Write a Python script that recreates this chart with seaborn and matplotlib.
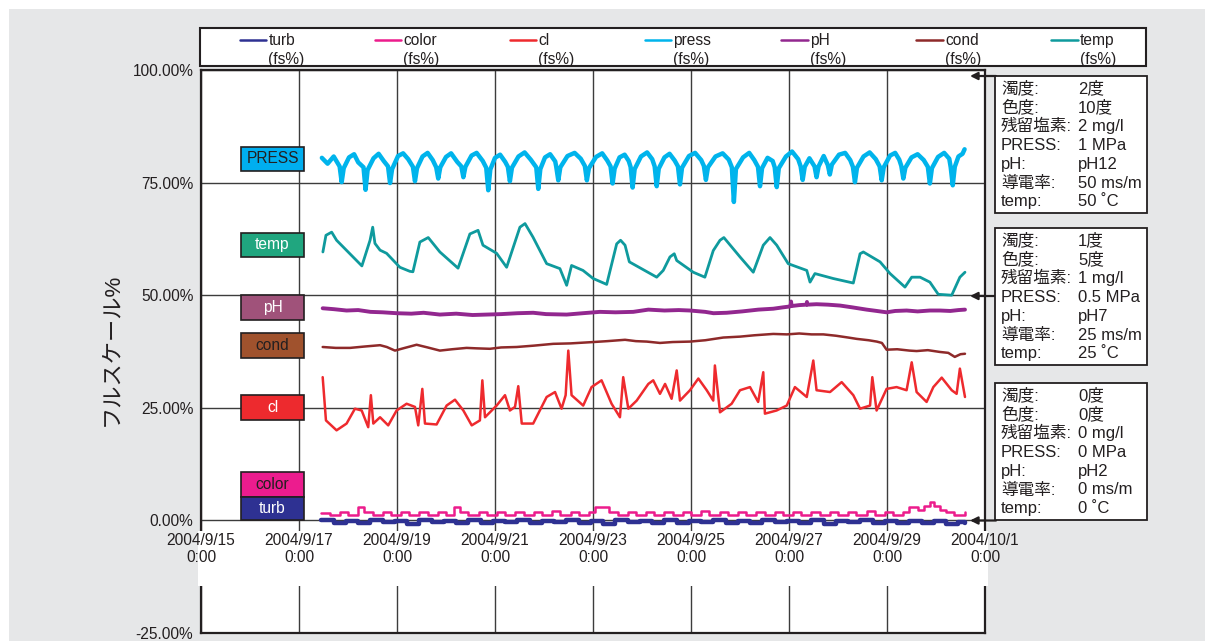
import numpy as np
import pandas as pd
import matplotlib.pyplot as plt
import matplotlib.dates as mdates
import seaborn as sns
from matplotlib.patches import Rectangle
from matplotlib.lines import Line2D
from matplotlib.legend_handler import HandlerLine2D

# Full-scale (%) monitoring record, 2004/9/17 - 2004/9/30.
# Hours are counted from the first sample (2004/9/17 11:00).
start = pd.Timestamp("2004-09-17 11:00")

turb_hours = [0, 6, 12, 18, 24, 30, 36, 42, 48, 54, 60, 66, 72, 78, 84, 90, 96, 102, 108, 114,
              120, 126, 132, 138, 144, 150, 156, 162, 168, 174, 180, 186, 192, 198, 204, 210,
              216, 222, 228, 234, 240, 246, 252, 258, 264, 270, 276, 282, 288, 294, 300, 306, 312, 315]
turb_values = [0.0, -0.5, -0.1, -0.6, 0.0, -0.4, -0.1, -0.7, 0.0, -0.4,
               -0.2, -0.6, 0.0, -0.5, -0.1, -0.4, 0.0, -0.6, -0.2, -0.4,
               0.0, -0.5, -0.1, -0.7, 0.0, -0.4, -0.1, -0.5, 0.0, -0.6,
               -0.2, -0.4, 0.0, -0.5, -0.1, -0.6, 0.0, -0.4, -0.2, -0.5,
               0.0, -0.7, -0.1, -0.4, 0.0, -0.5, -0.1, -0.6, -0.1, -0.5,
               -0.2, -0.7, -0.3, -0.6]

color_hours = [0, 4, 9, 13, 18, 21, 25, 30, 34, 39, 43, 48, 52, 57, 61, 65, 68, 72, 77, 81,
               86, 90, 95, 99, 104, 108, 113, 117, 122, 126, 131, 134, 141, 145, 150, 154, 159,
               163, 168, 172, 177, 181, 186, 190, 195, 199, 204, 208, 213, 217, 222, 226, 231,
               235, 240, 244, 249, 253, 258, 262, 267, 271, 276, 280, 285, 288, 292, 295, 298,
               300, 303, 306, 310, 315]
color_values = [1.6, 1.2, 1.9, 1.2, 2.9, 1.9, 1.2, 1.9, 1.2, 1.9,
                1.3, 1.9, 1.2, 1.9, 1.2, 2.9, 1.9, 1.2, 1.9, 1.2,
                1.9, 1.3, 1.9, 1.2, 1.9, 1.2, 2.0, 1.2, 1.9, 1.2,
                1.9, 3.0, 1.9, 1.2, 1.9, 1.2, 1.9, 1.3, 1.9, 1.2,
                1.9, 1.2, 2.0, 1.2, 1.9, 1.2, 1.9, 1.3, 1.9, 1.2,
                1.9, 1.2, 1.9, 1.2, 1.9, 1.3, 1.9, 1.2, 1.9, 1.2,
                2.0, 1.2, 1.9, 1.2, 1.9, 3.0, 2.2, 3.2, 4.0, 3.3,
                2.4, 1.9, 1.3, 1.9]

cl_hours = [0.6, 2.2, 7.4, 12.3, 16.4, 19.7, 22.9, 24.2, 25.4, 28.7, 32.7, 36.8, 41.7, 45.8,
            47.4, 49.4, 50.7, 56.4, 61.3, 65.4, 69.5, 73.6, 77.6, 78.8, 80.1, 85.8, 89.9, 92.3,
            94.8, 96.4, 98.1, 103.7, 110.3, 114.4, 117.6, 119.6, 120.9, 122.5, 128.2, 132.3,
            137.2, 142.1, 146.2, 147.8, 150.3, 154.4, 160.1, 162.5, 165.8, 168.3, 171.5, 174.0,
            175.6, 180.5, 184.6, 188.7, 191.9, 192.7, 195.2, 200.9, 205.0, 209.9, 213.9, 216.4,
            217.2, 222.9, 227.9, 231.9, 237.7, 240.9, 242.5, 249.1, 254.8, 260.5, 263.8, 268.7,
            269.8, 271.9, 276.8, 281.7, 286.6, 289.1, 291.5, 296.4, 299.7, 303.8, 308.7, 311.1,
            312.7, 315.2]
cl_values = [31.8, 22.2, 20.0, 21.5, 24.8, 24.4, 20.7, 27.8, 21.5, 22.9, 21.1, 24.4, 25.9, 25.2,
             21.1, 29.2, 21.5, 21.3, 25.5, 26.8, 24.4, 21.1, 22.2, 31.1, 22.9, 25.5, 27.8, 24.4,
             25.2, 29.8, 21.5, 21.5, 27.4, 28.5, 24.8, 27.8, 37.7, 27.8, 25.5, 29.6,
             31.1, 25.9, 22.9, 31.8, 24.8, 26.6, 30.3, 31.1, 28.1, 30.3, 27.0, 33.3,
             26.6, 28.9, 31.5, 28.9, 26.6, 34.4, 24.0, 25.9, 28.9, 29.6, 26.3, 32.9,
             23.7, 24.4, 25.5, 29.6, 27.4, 35.5, 28.9, 28.5, 30.7, 27.8, 24.8, 25.5,
             31.8, 24.4, 29.2, 29.6, 28.9, 35.1, 28.5, 26.3, 29.6, 31.7, 28.9, 28.1,
             33.7, 27.4]

press_hours = [0.2, 3.0, 6.0, 8.9, 9.9, 10.9, 13.5, 16.0, 18.0, 20.6,
               21.6, 22.6, 25.5, 28.0, 30.5, 32.6,
               33.6, 34.6, 37.5, 40.0, 42.5, 44.8,
               45.8, 46.8, 49.5, 52.0, 54.5, 56.2,
               57.2, 58.2, 61.0, 63.5, 66.5, 68.5,
               69.5, 70.5, 73.5, 76.0, 79.0, 80.7,
               81.7, 82.7, 85.0, 87.5, 90.0, 91.3,
               92.3, 93.3, 96.5, 99.5, 102.5, 105.2,
               106.2, 107.2, 109.5, 112.0, 114.5, 115.0,
               116.0, 117.0, 120.5, 124.0, 127.0, 129.0,
               130.0, 131.0, 134.5, 137.5, 140.0, 141.6,
               142.6, 143.6, 146.0, 148.5, 150.5, 151.4,
               152.4, 153.4, 156.5, 159.5, 162.0, 163.2,
               164.2, 165.2, 168.0, 170.5, 173.0, 174.6,
               175.6, 176.6, 180.0, 183.0, 186.0, 187.3,
               188.3, 189.3, 193.0, 196.5, 199.5, 201.0,
               202.0, 203.0, 206.5, 209.5, 212.0, 213.8,
               214.8, 215.8, 218.5, 221.0, 222.0,
               223.0, 224.0, 227.5, 230.5, 233.5, 234.7,
               235.7, 236.7, 239.0, 241.5,
               242.5, 243.5, 246.0, 248.0,
               249.0, 250.0, 253.5, 256.5, 259.0, 260.3,
               261.3, 262.3, 265.5, 268.5, 271.5, 273.4,
               274.4, 275.4, 278.5, 281.0, 283.0, 284.0,
               285.0, 286.0, 289.0, 292.0, 295.0, 297.0,
               298.0, 299.0, 302.0, 305.0, 307.5, 308.2,
               309.2, 310.2, 312.0, 314.0, 315.0]
press_values = [80.5, 79.2, 80.8, 78.6, 75.1, 78.2, 80.6, 81.3, 79.5, 78.4,
                73.4, 77.8, 80.4, 81.4, 79.8, 78.6,
                74.9, 78.0, 80.9, 81.5, 80.2, 78.5,
                75.3, 78.2, 80.8, 81.6, 80.0, 78.4,
                75.9, 78.4, 80.7, 81.5, 79.6, 78.6,
                76.2, 78.5, 81.0, 81.6, 79.8, 78.3,
                73.3, 77.9, 80.5, 81.2, 79.6, 78.5,
                75.3, 78.3, 80.8, 81.7, 80.1, 78.4,
                73.6, 78.0, 80.6, 81.3, 79.7, 78.5,
                75.5, 78.4, 80.9, 81.6, 80.3, 78.7,
                75.5, 78.2, 80.7, 81.5, 79.9, 78.6,
                74.8, 78.1, 80.6, 81.2, 79.8, 78.5,
                73.9, 78.0, 80.8, 81.7, 80.2, 78.6,
                74.2, 78.1, 80.6, 81.4, 79.9, 78.6,
                74.6, 78.3, 80.9, 81.6, 80.0, 78.7,
                75.6, 78.4, 80.8, 81.5, 80.1, 78.4,
                70.7, 78.0, 80.6, 81.6, 80.0, 78.5,
                74.2, 78.2, 80.5, 79.8, 78.4,
                74.0, 78.2, 80.8, 81.9, 80.2, 78.6,
                75.6, 78.5, 80.4, 78.6,
                76.2, 78.6, 80.9, 78.9,
                76.8, 79.0, 81.2, 81.6, 80.0, 78.5,
                75.1, 78.3, 80.8, 81.7, 80.2, 78.6,
                75.5, 78.4, 81.0, 81.6, 80.1, 78.7,
                75.9, 78.3, 80.6, 81.3, 80.0, 78.5,
                74.8, 78.2, 80.7, 81.6, 80.3, 78.4,
                74.4, 78.5, 80.8, 81.4, 82.4]

ph_hours = [0.6, 6, 12.3, 18, 24, 30, 36.8, 44, 50, 58.0, 66, 74, 80.9, 88, 96, 103.7, 110,
            120.1, 128, 136.4, 144, 152.7, 160.1, 168, 175, 180.5, 188, 192, 198.5, 206, 214,
            221.3, 226, 229.5, 229.8, 230.0, 230.3, 234, 237.6, 237.8, 238.0, 242.5, 248, 254.0,
            260, 267.0, 272, 276.8, 281, 286.6, 292, 298, 302.9, 308, 312, 315.2]
ph_values = [47.1, 46.9, 46.6, 46.7, 46.3, 46.2, 46.0, 45.9, 46.1, 45.7, 45.9, 45.6, 45.7, 45.8,
             46.0, 46.1, 45.8, 45.7, 46.0, 46.3, 46.2, 46.3, 46.8, 46.6, 46.7, 46.6, 46.3, 46.0,
             46.1, 46.4, 46.8, 47.0, 47.3, 47.5, 47.6, 48.6, 47.6, 47.8, 47.9, 48.5, 47.9, 48.0,
             47.9, 47.7, 47.3, 46.8, 46.5, 46.2, 46.5, 46.6, 46.4, 46.6, 46.6, 46.5, 46.7, 46.8]

cond_hours = [0.6, 7, 14.0, 21, 28.7, 32, 36.0, 40, 46.6, 52, 58.0, 64, 71.1, 76, 82.5, 88, 95.6,
              104, 113.5, 122, 133.1, 140, 148.7, 154, 159.3, 165.8, 172, 180.5, 188, 196.8, 205,
              212, 221.3, 228, 234, 240, 245.8, 252, 258, 262.2, 268, 272.0, 274.5, 276.8, 282,
              288, 291.5, 297, 302.9, 307, 310.2, 313, 315.2]
cond_values = [38.5, 38.3, 38.3, 38.6, 38.9, 38.5, 37.7, 38.2, 39.0, 38.4, 37.7, 38.0, 38.3, 38.2,
               38.1, 38.4, 38.5, 38.8, 39.2, 39.3, 39.6, 39.8, 40.1, 39.8, 39.7, 39.4, 39.6, 39.7,
               40.0, 40.6, 40.8, 41.1, 41.4, 41.3, 41.5, 41.3, 41.3, 41.0, 40.6, 40.3, 40.0, 39.7,
               39.4, 37.9, 38.0, 37.7, 37.6, 37.8, 37.4, 37.2, 36.3, 36.9, 37.0]

temp_hours = [0.7, 2.2, 5.0, 7.4, 19.8, 23.8, 25.1, 26.2, 28.7, 31.9, 38.4, 43.3, 44.8, 48.2, 52.3,
              58.0, 66.9, 72.7, 76.7, 79.1, 85.8, 90.7, 97.2, 99.7, 103.6, 110.3, 116.8, 120.1,
              122.5, 128.1, 133.1, 139.7, 144.6, 146.5, 148.7, 150.8, 164.2, 167.4, 170.7, 172.8,
              174.0, 182.1, 187.8, 191.9, 195.2, 197.1, 205.0, 211.5, 216.4, 219.7, 223.0, 228.6,
              237.7, 239.3, 241.7, 250.7, 260.5, 263.8, 265.4, 273.6, 278.5, 285.8, 289.1, 293.2,
              298.0, 302.1, 308.7, 312.7, 315.2]
temp_values = [59.6, 63.3, 64.0, 62.2, 56.5, 62.2, 65.1, 61.5, 60.0, 59.3, 56.2, 55.3, 55.2, 61.8,
               62.8, 59.6, 56.0, 63.6, 64.4, 61.1, 59.3, 56.2, 65.1, 65.9, 62.9, 57.0, 55.9, 52.2,
               56.6, 55.5, 53.7, 52.4, 61.4, 62.2, 61.1, 57.4, 54.0, 55.5, 58.5, 59.2, 57.7, 55.1,
               54.0, 59.9, 62.2, 62.8, 58.5, 55.1, 61.1, 62.8, 61.1, 57.0, 55.5, 52.9, 54.8, 53.7,
               52.7, 59.2, 59.6, 57.4, 54.8, 51.8, 54.0, 54.0, 52.9, 50.2, 50.0, 54.0, 55.1]

legend_names = ["turb", "color", "cl", "press", "pH", "cond", "temp"]
x_tick_dates = ["2004-09-15", "2004-09-17", "2004-09-19", "2004-09-21", "2004-09-23",
                "2004-09-25", "2004-09-27", "2004-09-29", "2004-10-01"]
x_tick_labels = ["2004/9/15\n0:00", "2004/9/17\n0:00", "2004/9/19\n0:00", "2004/9/21\n0:00",
                 "2004/9/23\n0:00", "2004/9/25\n0:00", "2004/9/27\n0:00", "2004/9/29\n0:00",
                 "2004/10/1\n0:00"]
y_ticks = [-25, 0, 25, 50, 75, 100]
y_tick_labels = ["-25.00%", "0.00%", "25.00%", "50.00%", "75.00%", "100.00%"]

box_labels = ["PRESS", "temp", "pH", "cond", "cl", "color", "turb"]
info_labels = ["濁度:", "色度:", "残留塩素:", "PRESS:", "pH:", "導電率:", "temp:"]
info_high = ["2度", "10度", "2 mg/l", "1 MPa", "pH12", "50 ms/m", "50 ˚C"]
info_mid = ["1度", "5度", "1 mg/l", "0.5 MPa", "pH7", "25 ms/m", "25 ˚C"]
info_low = ["0度", "0度", "0 mg/l", "0 MPa", "pH2", "0 ms/m", "0 ˚C"]

# ---------------------------------------------------------------- style
ink = "#231f20"
line_colors = {"turb": "#2e3192", "color": "#ec1c8c", "cl": "#ee2a2e", "press": "#00b4ec",
               "pH": "#92278f", "cond": "#8e2a2a", "temp": "#0f9a9d"}
box_fill = ["#00aeef", "#20a67f", "#a0527a", "#a0522d", "#ed2a2e", "#ec1c8e", "#2e3192"]
box_text = [ink, "white", "white", ink, "white", ink, "white"]
box_lo = [77.5, 58.4, 44.4, 36.0, 22.2, 5.3, 0.0]
box_hi = [83.0, 63.9, 50.0, 41.5, 27.8, 10.7, 5.3]

sns.set_style("white")
plt.rcParams["font.family"] = ["Liberation Sans", "Noto Sans CJK JP", "DejaVu Sans"]
plt.rcParams["text.color"] = ink
fs = 11.2

W, H = 1205, 641
fig = plt.figure(figsize=(W / 100, H / 100), dpi=100)
fig.patch.set_facecolor("white")
fig.add_artist(Rectangle((9 / W, 0), 1 - 9 / W, 1 - 9 / H, transform=fig.transFigure,
                         fc="#e6e7e8", ec="none", zorder=-10))

ax = fig.add_axes([201 / W, 8 / H, 784 / W, 563 / H])
ax.set_facecolor("white")

series = [
    ("turb", turb_hours, turb_values, 3.2, "steps-post"),
    ("color", color_hours, color_values, 1.8, "steps-post"),
    ("cl", cl_hours, cl_values, 1.8, "default"),
    ("press", press_hours, press_values, 3.2, "default"),
    ("pH", ph_hours, ph_values, 2.8, "default"),
    ("cond", cond_hours, cond_values, 1.8, "default"),
    ("temp", temp_hours, temp_values, 2.0, "default"),
]
for name, hrs, vals, lw, ds in series:
    df = pd.DataFrame({"time": start + pd.to_timedelta(hrs, unit="h"), "value": vals})
    sns.lineplot(data=df, x="time", y="value", ax=ax, color=line_colors[name],
                 linewidth=lw, drawstyle=ds, estimator=None, sort=False, legend=False)

ax.set_xlim(pd.Timestamp("2004-09-15"), pd.Timestamp("2004-10-01"))
ax.set_ylim(-25, 100)
ax.set_xlabel("")
ax.set_ylabel("フルスケール%", fontsize=16, color=ink)
ax.yaxis.set_label_coords(-0.100, 0.503)

ax.set_xticks(pd.to_datetime(x_tick_dates))
ax.tick_params(axis="x", length=0, labelbottom=False)
ax.set_yticks(y_ticks)
ax.set_yticklabels(y_tick_labels)
ax.tick_params(axis="y", direction="in", length=5, width=1.5, pad=5.5,
               labelsize=fs, colors=ink)
ax.grid(True, color="#3c3c3c", linewidth=1.0)
ax.set_axisbelow(True)
for sp in ax.spines.values():
    sp.set_color(ink)
    sp.set_linewidth(1.6)
    sp.set_zorder(0.6)

# white band that carries the date labels
ax.add_patch(Rectangle((-0.004, -14.65), 1.008, 12.21, transform=ax.get_yaxis_transform(),
                       fc="white", ec="none", zorder=0.8, clip_on=False))

secax = ax.secondary_xaxis(0.2)
secax.set_xticks(mdates.date2num(pd.to_datetime(x_tick_dates)), labels=x_tick_labels)
secax.tick_params(axis="x", length=0, pad=9, labelsize=fs, labelcolor=ink)
for sp in secax.spines.values():
    sp.set_visible(False)
secax.patch.set_visible(False)
secax.set_zorder(3)

# coloured name tags on the left
tr = ax.get_yaxis_transform()
for lab, lo, hi, fc, tc in zip(box_labels, box_lo, box_hi, box_fill, box_text):
    ax.add_patch(Rectangle((0.051, lo), 0.0804, hi - lo, transform=tr, fc=fc, ec=ink,
                           lw=1.2, zorder=4))
    ax.text(0.0912, (lo + hi) / 2, lab, transform=tr, ha="center", va="center",
            color=tc, fontsize=fs, zorder=5)


# legend: line handle level with the first text row
class RaisedLine(HandlerLine2D):
    def create_artists(self, legend, orig_handle, xdescent, ydescent, width, height,
                       fontsize, trans):
        arts = super().create_artists(legend, orig_handle, xdescent, ydescent, width,
                                      height, fontsize, trans)
        for a in arts:
            a.set_ydata(np.asarray(a.get_ydata()) + 0.68 * fontsize)
        return arts


fig.add_artist(Rectangle((200 / W, 1 - 66 / H), 946 / W, 38 / H, transform=fig.transFigure,
                         fc="white", ec=ink, lw=1.5, zorder=1))
handles = [Line2D([], [], color=line_colors[n], lw=1.8) for n in legend_names]
labels = [f"{n}\n(fs%)" for n in legend_names]
leg = fig.legend(handles, labels, loc="center",
                 bbox_to_anchor=(238 / W, 1 - 69 / H, 880 / W, 38 / H),
                 mode="expand", ncol=7, frameon=False, handlelength=1.7, handletextpad=0.15,
                 borderpad=0.1, borderaxespad=0, fontsize=fs,
                 handler_map={Line2D: RaisedLine()})
for t in leg.get_texts():
    t.set_linespacing(1.35)

# scale boxes on the right
for top, vals in zip([76, 228, 383], [info_high, info_mid, info_low]):
    fig.add_artist(Rectangle((995 / W, 1 - (top + 137) / H), 152 / W, 137 / H,
                             transform=fig.transFigure, fc="white", ec=ink, lw=1.3, zorder=2))
    for i, (lab, val) in enumerate(zip(info_labels, vals)):
        y = 1 - (top + 12.5 + i * 18.9) / H
        fig.text(1001 / W, y, lab, ha="left", va="center", fontsize=12, zorder=3)
        fig.text(1078 / W, y, val, ha="left", va="center", fontsize=12, zorder=3)

for y in [76, 296, 520.5]:
    ax.annotate("", xy=(970 / W, 1 - y / H), xycoords="figure fraction",
                xytext=(996 / W, 1 - y / H), textcoords="figure fraction",
                arrowprops=dict(arrowstyle="-|>", color=ink, lw=1.6, mutation_scale=11,
                                shrinkA=0, shrinkB=0),
                annotation_clip=False, zorder=6)

plt.savefig("out.png", dpi=100)
